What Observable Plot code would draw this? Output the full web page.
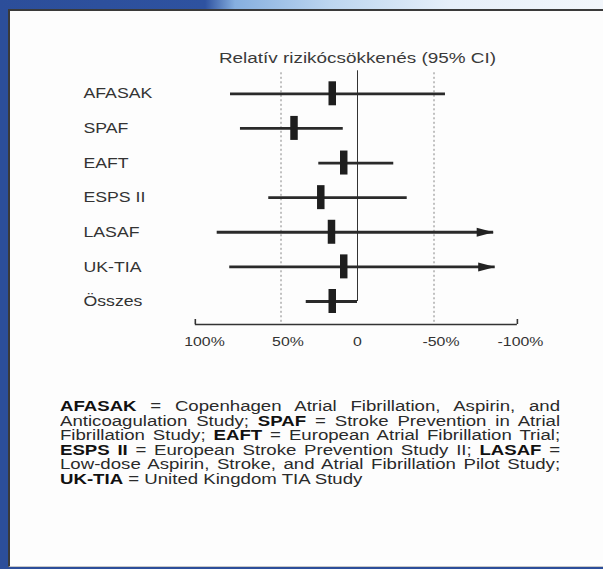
<!DOCTYPE html>
<html><head><meta charset="utf-8">
<script src="https://cdn.jsdelivr.net/npm/d3@7"></script>
<script src="https://cdn.jsdelivr.net/npm/@observablehq/plot@0.6"></script>
<style>
html,body{margin:0;padding:0;}
body{width:603px;height:569px;overflow:hidden;background:#2c4e9a;position:relative;font-family:"Liberation Sans",Arial,sans-serif;}
#top{position:absolute;left:0;top:0;width:603px;height:10px;background:linear-gradient(90deg,#2c4e9a 0px,#2e52a0 205px,#86afdf 235px,#bcd5ef 330px,#e6eff9 450px,#f2f6fb 603px);}
#panel{position:absolute;left:8px;top:9px;width:600px;height:558px;background:#fdfdfd;border-top:2px solid #3a3a3a;border-left:2.5px solid #3a3a3a;border-bottom:1px solid #c8c8c8;box-sizing:border-box;}
#chart{position:absolute;left:0;top:0;}
#cap{position:absolute;left:60px;top:399px;width:376px;transform:scaleX(1.33);transform-origin:0 0;font-size:14px;line-height:14.6px;color:#2a2a2a;}
#cap div{text-align:justify;text-align-last:justify;white-space:nowrap;}
#cap div.last{text-align-last:left;}
#cap b{color:#111;}
</style></head><body>
<div id="top"></div>
<div id="panel"></div>
<div id="chart"></div>
<div id="cap">
<div><b>AFASAK</b> = Copenhagen Atrial Fibrillation, Aspirin, and</div>
<div>Anticoagulation Study; <b>SPAF</b> = Stroke Prevention in Atrial</div>
<div>Fibrillation Study; <b>EAFT</b> = European Atrial Fibrillation Trial;</div>
<div><b>ESPS II</b> = European Stroke Prevention Study II; <b>LASAF</b> =</div>
<div>Low-dose Aspirin, Stroke, and Atrial Fibrillation Pilot Study;</div>
<div class="last"><b>UK-TIA</b> = United Kingdom TIA Study</div>
</div>
<script>
const studies = ["AFASAK","SPAF","EAFT","ESPS II","LASAF","UK-TIA","Összes"];
const estimate = [16.5, 41.5, 9, 24, 17, 9, 16.5];
const lower = [83, 76.5, 25.3, 58, 91.7, 83.5, 33.5];
const upper = [-57.5, 9.3, -23.7, -32.5, -89, -90, 0];
const arrowed = [false, false, false, false, true, true, false];
const ticks = [100, 50, 0, -50, -100];
const tickLabels = ["100%", "50%", "0", "-50%", "-100%"];
const refLines = [50, -50];
const title = "Relatív rizikócsökkenés (95% CI)";

const data = studies.map((s, i) => ({study: s, row: i, est: estimate[i], lo: lower[i], hi: upper[i], arrow: arrowed[i]}));
const tickData = ticks.map((t, i) => ({t, label: tickLabels[i]}));
const last = studies.length - 1;
const axisPad = 6;

const tri = {draw(ctx, l, r) { ctx.moveTo(-4.5, 0); ctx.lineTo(0, -l); ctx.lineTo(4.5, 0); ctx.closePath(); }};

const chart = Plot.plot({
  width: 603, height: 380,
  marginLeft: 0, marginRight: 0, marginTop: 0, marginBottom: 0,
  style: {background: "transparent", fontFamily: "Liberation Sans, Arial, sans-serif", overflow: "visible"},
  x: {domain: [100, -100], range: [204, 510], axis: null},
  y: {domain: [0, last], range: [93.3, 301], axis: null},
  marks: [
    Plot.ruleX(refLines, {y1: 0, y2: last, stroke: "#666", strokeWidth: 0.8, strokeDasharray: "2,2.5", insetTop: -21, insetBottom: -23}),
    Plot.ruleX([0], {y1: 0, y2: last, stroke: "#333", strokeWidth: 1, insetTop: -23}),
    Plot.ruleY([last], {x1: ticks[0] + axisPad, x2: ticks[4] - axisPad + 1.5, dy: 23, stroke: "#333", strokeWidth: 1.6}),
    Plot.ruleX([ticks[0] + axisPad, ticks[4] - axisPad + 1.5], {y1: last, y2: last, dy: 23, insetTop: -5, stroke: "#333", strokeWidth: 1.6}),
    Plot.ruleY(data, {y: "row", x1: "lo", x2: "hi", stroke: "#2a2a2a", strokeWidth: 2.8}),
    Plot.vector(data.filter(d => d.arrow), {x: "hi", y: "row", rotate: 90, length: 17, anchor: "end", shape: tri, fill: "#222", stroke: "none"}),
    Plot.ruleX(data, {x: "est", y1: "row", y2: "row", insetTop: -12, insetBottom: -12, stroke: "#1e1e1e", strokeWidth: 7.5}),
    Plot.text(data, {y: "row", text: "study", frameAnchor: "left", dx: 83, textAnchor: "start", fontSize: 14.5, fill: "#333"}),
    Plot.text(tickData.filter(d => d.t === 100 || d.t === 0), {x: "t", y: () => last, text: "label", dy: 40, fontSize: 13, fill: "#333"}),
    Plot.text(tickData.filter(d => d.t === 50 || d.t === -50), {x: "t", y: () => last, text: "label", dy: 40, dx: 7, fontSize: 13, fill: "#333"}),
    Plot.text(tickData.filter(d => d.t === -100), {x: "t", y: () => last, text: "label", dy: 40, dx: 10, fontSize: 13, fill: "#333"}),
    Plot.text([title], {x: () => 0, y: () => 0, text: d => d, dy: -36, fontSize: 15.5, fill: "#3a3a3a"})
  ]
});
// horizontal stretch of the lettering, as in the reference scan
d3.select(chart).selectAll("text").each(function() {
  const t = this.getAttribute("transform") || "";
  this.setAttribute("transform", t + " scale(1.22,1)");
});
document.getElementById("chart").appendChild(chart);
</script>
</body></html>
